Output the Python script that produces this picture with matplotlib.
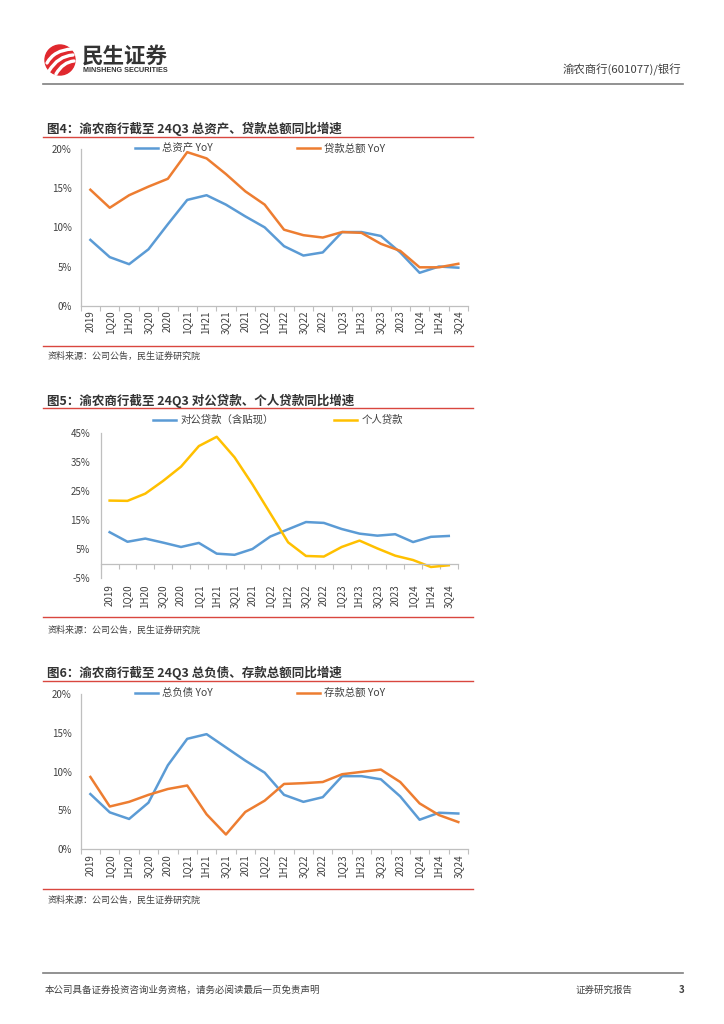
import matplotlib
matplotlib.use("Agg")
import matplotlib.pyplot as plt
from matplotlib.patches import Circle, PathPatch
from matplotlib.path import Path

plt.rcParams['font.family'] = ['Noto Sans CJK SC', 'DejaVu Sans']

# ---------------- data ----------------
categories = ['2019', '1Q20', '1H20', '3Q20', '2020', '1Q21', '1H21', '3Q21', '2021', '1Q22',
              '1H22', '3Q22', '2022', '1Q23', '1H23', '3Q23', '2023', '1Q24', '1H24', '3Q24']

total_assets_yoy = [8.4, 6.2, 5.3, 7.2, 10.4, 13.5, 14.1, 12.9, 11.4, 10.0,
                    7.6, 6.4, 6.8, 9.4, 9.4, 8.9, 6.8, 4.2, 5.0, 4.85]
total_loans_yoy = [14.8, 12.5, 14.1, 15.2, 16.2, 19.6, 18.8, 16.8, 14.6, 12.9,
                   9.7, 9.0, 8.7, 9.4, 9.3, 7.9, 7.0, 4.9, 4.9, 5.35]

corporate_loans_yoy = [10.9, 7.6, 8.7, 7.3, 5.8, 7.2, 3.5, 3.1, 5.1, 9.4,
                       11.9, 14.4, 14.1, 12.0, 10.4, 9.7, 10.2, 7.5, 9.3, 9.6]
personal_loans_yoy = [21.8, 21.7, 24.2, 28.6, 33.5, 40.6, 43.8, 36.7, 27.4, 17.4,
                      7.4, 2.7, 2.5, 5.8, 8.0, 5.3, 2.8, 1.3, -1.1, -0.5]

total_liab_yoy = [7.1, 4.75, 3.9, 6.0, 10.8, 14.2, 14.8, 13.1, 11.4, 9.85,
                  7.0, 6.1, 6.7, 9.4, 9.4, 9.0, 6.8, 3.8, 4.7, 4.6]
deposits_yoy = [9.3, 5.5, 6.1, 7.0, 7.75, 8.2, 4.5, 1.9, 4.8, 6.25,
                8.4, 8.5, 8.65, 9.65, 9.95, 10.25, 8.65, 5.9, 4.4, 3.5]

titles = ['图4：渝农商行截至 24Q3 总资产、贷款总额同比增速',
          '图5：渝农商行截至 24Q3 对公贷款、个人贷款同比增速',
          '图6：渝农商行截至 24Q3 总负债、存款总额同比增速']
legend1 = ['总资产 YoY', '贷款总额 YoY']
legend2 = ['对公贷款（含贴现）', '个人贷款']
legend3 = ['总负债 YoY', '存款总额 YoY']
yticks1 = [0, 5, 10, 15, 20]
yticks2 = [-5, 5, 15, 25, 35, 45]
source = '资料来源：公司公告，民生证券研究院'

BLUE = '#5B9BD5'
ORANGE = '#ED7D31'
YELLOW = '#FFC000'
RED = '#D9473F'
GREY = '#404040'
AXC = '#BFBFBF'

W, H = 724, 1024
fig = plt.figure(figsize=(W / 100, H / 100), dpi=100)

# overlay in pixel coordinates for page decoration
ov = fig.add_axes([0, 0, 1, 1])
ov.set_xlim(0, W)
ov.set_ylim(H, 0)
ov.axis('off')

# header
ov.add_patch(Circle((60, 60), 15, color='#E0282E'))
for (x0, y0, cx, cy, x1, y1) in [(47, 63, 54, 50, 72, 49), (49, 71, 58, 56, 73, 55), (56, 74, 63, 62, 74, 61)]:
    p = Path([(x0, y0), (cx, cy), (x1, y1)], [Path.MOVETO, Path.CURVE3, Path.CURVE3])
    ov.add_patch(PathPatch(p, facecolor='none', edgecolor='white', lw=2.4, capstyle='round'))
ov.text(82, 56, '民生证券', fontsize=15.5, fontweight='bold', color='#333333', va='center', ha='left')
ov.text(83, 71, 'MINSHENG SECURITIES', fontsize=5.2, fontweight='bold', color='#333333',
        va='center', ha='left', family=['Liberation Sans', 'DejaVu Sans'])
ov.text(681, 70, '渝农商行(601077)/银行', fontsize=8.2, color=GREY, va='center', ha='right')
ov.plot([43, 683], [83.5, 83.5], color='#7F7F7F', lw=1.2)

# footer
ov.plot([43, 683], [973, 973], color='#7F7F7F', lw=1.2)
ov.text(45, 990, '本公司具备证券投资咨询业务资格，请务必阅读最后一页免责声明', fontsize=6.8, color=GREY, va='center')
ov.text(576, 990, '证券研究报告', fontsize=6.8, color=GREY, va='center')
ov.text(682, 990, '3', fontsize=7, color=GREY, va='center', ha='center', fontweight='bold')

# section decorations
sections = [
    (titles[0], 129, 137, 345.7, 356.7),
    (titles[1], 400.7, 408.3, 617.3, 630),
    (titles[2], 673.3, 680.7, 889.3, 900.7),
]
for t, ty, l1, l2, sy in sections:
    ov.text(47, ty, t, fontsize=9, fontweight='bold', color='#333333', va='center', ha='left')
    ov.plot([43, 473], [l1, l1], color=RED, lw=1.0)
    ov.plot([43, 473], [l2, l2], color=RED, lw=1.0)
    ov.text(48, sy, source, fontsize=6.5, color=GREY, va='center', ha='left')

x = list(range(len(categories)))


def frac(left, right, top, bottom):
    return [left / W, 1 - bottom / H, (right - left) / W, (bottom - top) / H]


def style_axes(ax, yticks, ylim, xlab_pad, ypad, bottom_at=None):
    ax.set_facecolor('none')
    for s in ['top', 'right']:
        ax.spines[s].set_visible(False)
    for s in ['left', 'bottom']:
        ax.spines[s].set_color(AXC)
        ax.spines[s].set_linewidth(0.9)
    if bottom_at is not None:
        ax.spines['bottom'].set_position(('data', bottom_at))
    ax.set_xlim(-0.5, len(categories) - 0.5)
    ax.set_ylim(*ylim)
    ax.set_yticks(yticks)
    ax.set_yticklabels([f'{v}%' for v in yticks])
    ax.set_xticks(x)
    ax.set_xticklabels(categories, rotation=90)
    ax.set_xticks([i - 0.5 for i in range(len(categories) + 1)], minor=True)
    ax.tick_params(axis='x', which='major', length=0, pad=xlab_pad, labelsize=7, labelcolor=GREY)
    ax.tick_params(axis='x', which='minor', length=3.5, width=0.8, color=AXC, direction='out')
    ax.tick_params(axis='y', length=0, pad=ypad, labelsize=7, labelcolor=GREY)


def add_legend(ax, handles, labels, x0, yc, colsp):
    ax.legend(handles, labels, loc='center left', bbox_to_anchor=(x0 / W, 1 - yc / H),
              bbox_transform=fig.transFigure, ncol=2, frameon=False, borderpad=0,
              borderaxespad=0, handlelength=2.2, handletextpad=0.4, columnspacing=colsp,
              fontsize=7.5, labelcolor=GREY)


# chart 1
ax1 = fig.add_axes(frac(80.7, 468.0, 149.0, 305.7))
h1, = ax1.plot(x, total_assets_yoy, color=BLUE, lw=1.8, solid_joinstyle='round')
h2, = ax1.plot(x, total_loans_yoy, color=ORANGE, lw=1.8, solid_joinstyle='round')
style_axes(ax1, yticks1, (0, 20), 3.5, 6.5)
add_legend(ax1, [h1, h2], legend1, 135, 148.3, 8.1)

# chart 2
ax2 = fig.add_axes(frac(100.7, 457.7, 433.3, 578.3))
h3, = ax2.plot(x, corporate_loans_yoy, color=BLUE, lw=1.8, solid_joinstyle='round')
h4, = ax2.plot(x, personal_loans_yoy, color=YELLOW, lw=1.8, solid_joinstyle='round')
style_axes(ax2, yticks2, (-5, 45), 15, 7.5, bottom_at=0)
add_legend(ax2, [h3, h4], legend2, 153.3, 420, 5.8)

# chart 3
ax3 = fig.add_axes(frac(80.7, 468.0, 693.7, 849.3))
h5, = ax3.plot(x, total_liab_yoy, color=BLUE, lw=1.8, solid_joinstyle='round')
h6, = ax3.plot(x, deposits_yoy, color=ORANGE, lw=1.8, solid_joinstyle='round')
style_axes(ax3, yticks1, (0, 20), 3.5, 6.5)
add_legend(ax3, [h5, h6], legend3, 135, 693.3, 8.1)

fig.savefig('out.png', dpi=100)
